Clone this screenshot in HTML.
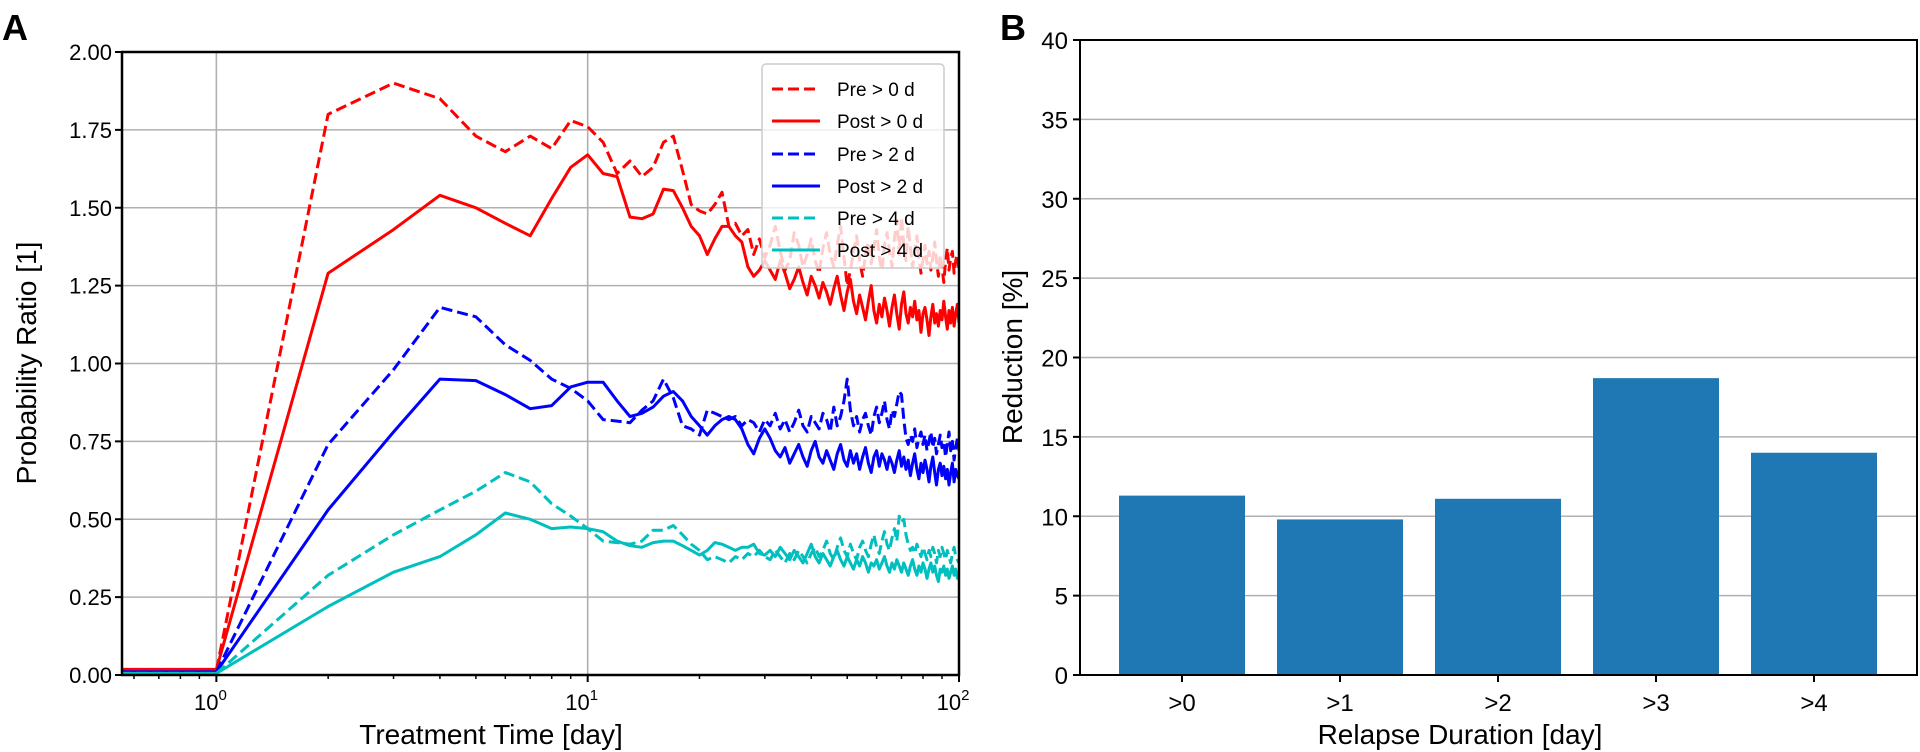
<!DOCTYPE html>
<html><head><meta charset="utf-8">
<style>
html,body{margin:0;padding:0;background:#fff;}
svg{display:block;font-family:"Liberation Sans",sans-serif;}
</style></head>
<body>
<svg id="fig" width="1920" height="752" viewBox="0 0 1920 752" xmlns="http://www.w3.org/2000/svg">
<defs><clipPath id="clipA"><rect x="122" y="52" width="837" height="623"/></clipPath></defs>
<text x="2" y="40" font-size="36" font-weight="bold">A</text>
<text x="1000" y="40" font-size="36" font-weight="bold">B</text>
<g id="chartA"></g>
<g id="chartB"></g>
</svg>
<script>
const NS='http://www.w3.org/2000/svg';
function mk(tag,attrs,parent,text){const e=document.createElementNS(NS,tag);for(const k in attrs)e.setAttribute(k,attrs[k]);if(text!==undefined)e.textContent=text;parent.appendChild(e);return e;}

// ---------- Panel A data ----------
const seriesNames=['Pre > 0 d','Post > 0 d','Pre > 2 d','Post > 2 d','Pre > 4 d','Post > 4 d'];
const seriesColors=['#ff0000','#ff0000','#0000ff','#0000ff','#00bfbf','#00bfbf'];
const seriesDashed=[true,false,true,false,true,false];
const yTicksA=[0,0.25,0.5,0.75,1.0,1.25,1.5,1.75,2.0];
const yTickLabelsA=['0.00','0.25','0.50','0.75','1.00','1.25','1.50','1.75','2.00'];
const preR=[0.015,0.015,1.80,1.90,1.85,1.73,1.68,1.73,1.69,1.78,1.76,1.71,1.61,1.65,1.60,1.63,1.71,1.73,1.62,1.51,1.49,1.48,1.51,1.55,1.44,1.45,1.41,1.43,1.35,1.40,1.34,
1.38,1.44,1.36,1.30,1.33,1.42,1.38,1.31,1.35,1.40,
1.33,1.29,1.37,1.42,1.35,1.31,1.38,1.44,1.34,1.25,
1.30,1.36,1.41,1.33,1.28,1.35,1.39,1.32,1.37,1.43,
1.34,1.30,1.38,1.42,1.36,1.31,1.40,1.46,1.35,1.47,
1.38,1.33,1.44,1.37,1.31,1.36,1.41,1.34,1.29,1.33,
1.38,1.32,1.36,1.30,1.34,1.39,1.33,1.28,1.35,1.31,
1.26,1.33,1.37,1.30,1.34,1.36,1.29,1.33,1.35,1.30];
const postR=[0.018,0.018,1.29,1.43,1.54,1.50,1.45,1.41,1.53,1.63,1.67,1.61,1.60,1.47,1.465,1.48,1.56,1.555,1.50,1.44,1.41,1.35,1.40,1.44,1.44,1.41,1.39,1.31,1.28,1.30,1.33,
1.30,1.27,1.33,1.29,1.24,1.27,1.31,1.26,1.22,1.28,
1.25,1.21,1.26,1.23,1.19,1.24,1.28,1.22,1.17,1.23,
1.27,1.20,1.16,1.22,1.18,1.14,1.20,1.25,1.17,1.13,
1.19,1.15,1.21,1.17,1.12,1.18,1.22,1.16,1.11,1.19,
1.23,1.16,1.13,1.18,1.15,1.20,1.14,1.17,1.10,1.16,
1.18,1.14,1.09,1.15,1.19,1.13,1.16,1.12,1.17,1.14,
1.20,1.15,1.11,1.17,1.13,1.18,1.12,1.16,1.19,1.13];
const preB=[0.01,0.01,0.74,0.98,1.18,1.15,1.06,1.01,0.95,0.92,0.88,0.82,0.815,0.81,0.85,0.88,0.95,0.89,0.80,0.79,0.77,0.85,0.84,0.83,0.82,0.83,0.80,0.82,0.81,0.78,0.82,
0.80,0.84,0.79,0.82,0.78,0.81,0.85,0.80,0.78,0.83,
0.81,0.79,0.84,0.82,0.78,0.86,0.80,0.83,0.88,0.95,
0.85,0.80,0.83,0.78,0.82,0.84,0.80,0.77,0.83,0.86,
0.81,0.84,0.88,0.82,0.79,0.85,0.83,0.87,0.91,0.90,
0.82,0.76,0.74,0.77,0.75,0.79,0.73,0.76,0.78,0.74,
0.77,0.72,0.75,0.78,0.73,0.76,0.71,0.74,0.77,0.73,
0.75,0.70,0.74,0.78,0.72,0.75,0.69,0.73,0.76,0.72];
const postB=[0.01,0.01,0.53,0.78,0.95,0.945,0.90,0.855,0.865,0.925,0.94,0.94,0.88,0.83,0.84,0.86,0.895,0.91,0.88,0.83,0.80,0.77,0.80,0.82,0.83,0.82,0.79,0.74,0.71,0.76,0.79,
0.76,0.72,0.70,0.73,0.68,0.71,0.74,0.70,0.67,0.72,
0.75,0.70,0.68,0.72,0.69,0.66,0.71,0.74,0.69,0.67,
0.72,0.68,0.71,0.66,0.70,0.73,0.68,0.65,0.70,0.72,
0.67,0.71,0.69,0.66,0.70,0.68,0.65,0.69,0.72,0.67,
0.70,0.66,0.69,0.64,0.68,0.71,0.66,0.63,0.68,0.65,
0.69,0.66,0.62,0.67,0.70,0.65,0.61,0.66,0.68,0.64,
0.67,0.63,0.66,0.61,0.65,0.68,0.62,0.66,0.64,0.63];
const preC=[0.005,0.005,0.32,0.45,0.53,0.59,0.65,0.62,0.55,0.51,0.47,0.43,0.425,0.42,0.43,0.465,0.465,0.48,0.45,0.42,0.40,0.37,0.38,0.37,0.36,0.38,0.37,0.39,0.38,0.40,0.38,
0.37,0.40,0.38,0.36,0.39,0.37,0.40,0.38,0.36,0.39,
0.41,0.38,0.40,0.43,0.39,0.37,0.41,0.44,0.40,0.38,
0.42,0.39,0.37,0.41,0.43,0.40,0.38,0.42,0.45,0.41,
0.39,0.43,0.46,0.42,0.40,0.44,0.47,0.43,0.51,0.49,
0.50,0.45,0.42,0.40,0.41,0.39,0.42,0.40,0.38,0.41,
0.39,0.37,0.40,0.38,0.41,0.39,0.36,0.40,0.38,0.41,
0.39,0.37,0.40,0.38,0.36,0.39,0.41,0.38,0.37,0.36];
const postC=[0.005,0.005,0.22,0.33,0.38,0.45,0.52,0.50,0.47,0.475,0.47,0.46,0.43,0.415,0.41,0.425,0.43,0.43,0.415,0.40,0.385,0.40,0.425,0.42,0.41,0.40,0.41,0.41,0.42,0.39,0.385,
0.40,0.38,0.41,0.39,0.37,0.40,0.38,0.36,0.39,0.42,
0.38,0.36,0.39,0.37,0.35,0.38,0.40,0.37,0.35,0.38,
0.36,0.34,0.37,0.35,0.38,0.36,0.33,0.36,0.35,0.37,
0.34,0.36,0.38,0.35,0.33,0.36,0.34,0.37,0.35,0.33,
0.36,0.34,0.32,0.35,0.37,0.34,0.32,0.35,0.33,0.36,
0.34,0.31,0.34,0.36,0.33,0.35,0.32,0.30,0.34,0.33,
0.35,0.32,0.34,0.31,0.33,0.35,0.32,0.34,0.31,0.33];
const seriesValues=[preR,postR,preB,postB,preC,postC];

// ---------- Panel B data ----------
const barCategories=['>0','>1','>2','>3','>4'];
const barValues=[11.3,9.8,11.1,18.7,14.0];
const yTicksB=[0,5,10,15,20,25,30,35,40];

// ---------- Panel A ----------
(function(){
const g=document.getElementById('chartA');
const L=122,R=959,T=52,B=675;
const lx0=Math.log10(0.557),lx1=2;
const xs=v=>L+(Math.log10(v)-lx0)/(lx1-lx0)*(R-L);
const ys=v=>B-(v/2)*(B-T);
const grid=mk('g',{},g);


yTicksA.forEach(t=>{mk('line',{x1:L,x2:R,y1:ys(t),y2:ys(t),stroke:'#b0b0b0','stroke-width':1.6},grid);});
[1,10].forEach(t=>{mk('line',{x1:xs(t),x2:xs(t),y1:T,y2:B,stroke:'#b0b0b0','stroke-width':1.6},grid);});
const lines=mk('g',{'clip-path':'url(#clipA)'},g);
seriesValues.forEach((vals,si)=>{
  const pts=vals.map((v,i)=>{const d=i===0?0.5:i;return xs(d).toFixed(1)+','+ys(v).toFixed(1);}).join(' ');
  const p=mk('polyline',{points:pts,fill:'none',stroke:seriesColors[si],'stroke-width':3,'stroke-linejoin':'round'},lines);
  if(seriesDashed[si])p.setAttribute('stroke-dasharray','11,5');
  
  
});
mk('rect',{x:L,y:T,width:R-L,height:B-T,fill:'none',stroke:'#000','stroke-width':2.5},g);
yTicksA.forEach((t,i)=>{
  mk('line',{x1:L-7,x2:L,y1:ys(t),y2:ys(t),stroke:'#000','stroke-width':2},g);
  const tx=mk('text',{x:L-10,y:ys(t)+8,'font-size':22,'text-anchor':'end'},g,yTickLabelsA[i]);
  
  
});
[1,10,100].forEach((t,i)=>{
  mk('line',{x1:xs(t),x2:xs(t),y1:B,y2:B+7,stroke:'#000','stroke-width':2},g);
  const tx=mk('text',{x:xs(t)-6,y:B+35,'font-size':22,'text-anchor':'middle'},g);
  
  
  tx.appendChild(document.createTextNode('10'));
  mk('tspan',{dy:-10,'font-size':15},tx,String(i));
});
[0.6,0.7,0.8,0.9,2,3,4,5,6,7,8,9,20,30,40,50,60,70,80,90].forEach(t=>{
  mk('line',{x1:xs(t),x2:xs(t),y1:B,y2:B+4,stroke:'#000','stroke-width':1.5},g);
});
const xl=mk('text',{x:491,y:744,'font-size':28,'text-anchor':'middle'},g,'Treatment Time [day]');


const yl=mk('text',{x:0,y:0,'font-size':28,'text-anchor':'middle',transform:'translate(36,363) rotate(-90)'},g,'Probability Ratio [1]');


const lg=mk('g',{},g);


mk('rect',{x:762,y:64,width:182,height:204,rx:4,fill:'#fff','fill-opacity':0.8,stroke:'#ccc','stroke-width':1.5},lg);
const rowY=[89,121,154,186,218,250];
seriesNames.forEach((n,i)=>{
  const e=mk('g',{},lg);
  
  
  const ln=mk('line',{x1:772,x2:820,y1:rowY[i],y2:rowY[i],stroke:seriesColors[i],'stroke-width':3},e);
  if(seriesDashed[i])ln.setAttribute('stroke-dasharray','11,5');
  mk('text',{x:837,y:rowY[i]+7,'font-size':19},e,n);
});
})();

// ---------- Panel B ----------
(function(){
const g=document.getElementById('chartB');
const L=1080,R=1917,T=40,B=675;
const step=158,first=1182;
const xc=i=>first+i*step;
const ys=v=>B-(v/40)*(B-T);
yTicksB.forEach(t=>{
  if(t>0&&t<40)mk('line',{x1:L,x2:R,y1:ys(t),y2:ys(t),stroke:'#b0b0b0','stroke-width':1.6},g);
});
barValues.forEach((v,i)=>{
  const r=mk('rect',{x:xc(i)-63,y:ys(v),width:126,height:B-ys(v),fill:'#1f77b4'},g);
  
  
});
mk('rect',{x:L,y:T,width:R-L,height:B-T,fill:'none',stroke:'#000','stroke-width':2},g);
yTicksB.forEach(t=>{
  mk('line',{x1:L-7,x2:L,y1:ys(t),y2:ys(t),stroke:'#000','stroke-width':2},g);
  const tx=mk('text',{x:L-12,y:ys(t)+9,'font-size':24,'text-anchor':'end'},g,String(t));
  
  
});
barCategories.forEach((c,i)=>{
  mk('line',{x1:xc(i),x2:xc(i),y1:B,y2:B+7,stroke:'#000','stroke-width':2},g);
  const tx=mk('text',{x:xc(i),y:B+36,'font-size':24,'text-anchor':'middle'},g,c);
  
  
});
const xl=mk('text',{x:1460,y:744,'font-size':28,'text-anchor':'middle'},g,'Relapse Duration [day]');


const yl=mk('text',{x:0,y:0,'font-size':28,'text-anchor':'middle',transform:'translate(1022,357) rotate(-90)'},g,'Reduction [%]');


})();
</script>
</body></html>
